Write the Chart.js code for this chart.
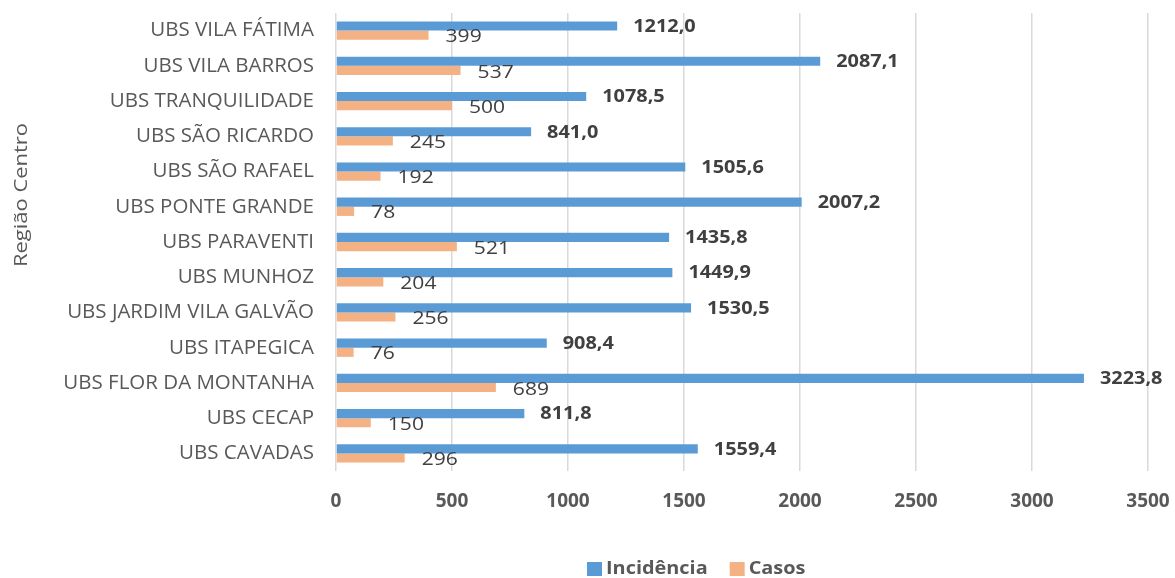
<!DOCTYPE html>
<html>
<head>
<meta charset="utf-8">
<script src="https://cdn.jsdelivr.net/npm/chart.js@4.4.0/dist/chart.umd.min.js"></script>
<style>
  html, body { margin: 0; padding: 0; background: #fff; }
  #wrap { width: 1175px; height: 578px; }
</style>
</head>
<body>
<div id="wrap"><canvas id="chart"></canvas></div>
<script>
const unidades = [
    "UBS VILA FÁTIMA", "UBS VILA BARROS", "UBS TRANQUILIDADE", "UBS SÃO RICARDO",
    "UBS SÃO RAFAEL", "UBS PONTE GRANDE", "UBS PARAVENTI", "UBS MUNHOZ",
    "UBS JARDIM VILA GALVÃO", "UBS ITAPEGICA", "UBS FLOR DA MONTANHA", "UBS CECAP", "UBS CAVADAS"
];
const incidencia = [1212.0, 2087.1, 1078.5, 841.0, 1505.6, 2007.2, 1435.8, 1449.9, 1530.5, 908.4, 3223.8, 811.8, 1559.4];
const casos = [399, 537, 500, 245, 192, 78, 521, 204, 256, 76, 689, 150, 296];
const xTicks = [0, 500, 1000, 1500, 2000, 2500, 3000, 3500];

const fontFamily = "'Open Sans', sans-serif";
const grey = "#595959";
const stretch = 1.17; // the original text is a bit wider than Open Sans

function wideText(ctx, text, x, y) {
    ctx.save();
    ctx.translate(x, y);
    ctx.scale(stretch, 1);
    ctx.fillText(text, 0, 0);
    ctx.restore();
}

// value labels next to the bars
const barLabels = {
    id: "barLabels",
    afterDatasetsDraw(chart) {
        let ctx = chart.ctx;
        ctx.save();
        ctx.textBaseline = "middle";
        ctx.textAlign = "left";
        ctx.fillStyle = "#404040";
        chart.data.datasets.forEach((ds, i) => {
            let meta = chart.getDatasetMeta(i);
            meta.data.forEach((bar, j) => {
                let v = ds.data[j];
                if (i === 0) {
                    ctx.font = "bold 17px " + fontFamily;
                    wideText(ctx, v.toFixed(1).replace(".", ","), bar.x + 16, bar.y + 1);
                } else {
                    ctx.font = "18px " + fontFamily;
                    wideText(ctx, String(v), bar.x + 17, bar.y + 2);
                }
            });
        });
        ctx.restore();
    }
};

// axis title and legend placed like the original
const extras = {
    id: "extras",
    afterDraw(chart) {
        let ctx = chart.ctx;
        ctx.save();
        ctx.fillStyle = grey;
        ctx.font = "18px " + fontFamily;
        ctx.textAlign = "center";
        ctx.textBaseline = "middle";
        ctx.translate(22, 195);
        ctx.rotate(-Math.PI / 2);
        ctx.scale(1.22, 1);
        ctx.fillText("Região Centro", 0, 0);
        ctx.restore();

        ctx.save();
        ctx.font = "bold 17px " + fontFamily;
        ctx.textBaseline = "middle";
        ctx.textAlign = "left";
        let x = 587, y = 569;
        chart.data.datasets.forEach(ds => {
            ctx.fillStyle = ds.backgroundColor;
            ctx.fillRect(x, y - 7, 15, 14);
            ctx.fillStyle = grey;
            wideText(ctx, ds.label, x + 19, y);
            x += 19 + ctx.measureText(ds.label).width * stretch + 22;
        });
        ctx.restore();
    }
};

new Chart(document.getElementById("chart"), {
    type: "bar",
    data: {
        labels: unidades,
        datasets: [
            { label: "Incidência", data: incidencia, backgroundColor: "#5B9BD5" },
            { label: "Casos", data: casos, backgroundColor: "#F4B183" }
        ]
    },
    options: {
        indexAxis: "y",
        responsive: true,
        maintainAspectRatio: false,
        animation: false,
        layout: { padding: { top: 13, right: 27, left: 0, bottom: 0 } },
        datasets: { bar: { categoryPercentage: 0.52, barPercentage: 1.0 } },
        plugins: {
            legend: { display: false },
            tooltip: { enabled: false }
        },
        scales: {
            x: {
                min: 0,
                max: 3500,
                afterBuildTicks: scale => { scale.ticks = xTicks.map(v => ({ value: v })); },
                afterFit: scale => {
                    scale.height = 107;
                    scale.paddingLeft = 0;
                    scale.paddingRight = 0;
                },
                grid: { color: "#d9d9d9", lineWidth: 1.5, drawTicks: false },
                border: { display: false },
                ticks: {
                    padding: 19,
                    color: grey,
                    callback: v => String(v),
                    font: { family: fontFamily, size: 19, weight: "bold" }
                }
            },
            y: {
                afterFit: scale => {
                    scale.width = 336;
                    scale.paddingTop = 0;
                    scale.paddingBottom = 0;
                },
                grid: { display: false, drawTicks: false },
                border: { display: false },
                ticks: {
                    padding: 22,
                    color: grey,
                    font: { family: fontFamily, size: 20.5 }
                }
            }
        }
    },
    plugins: [barLabels, extras]
});
</script>
</body>
</html>
